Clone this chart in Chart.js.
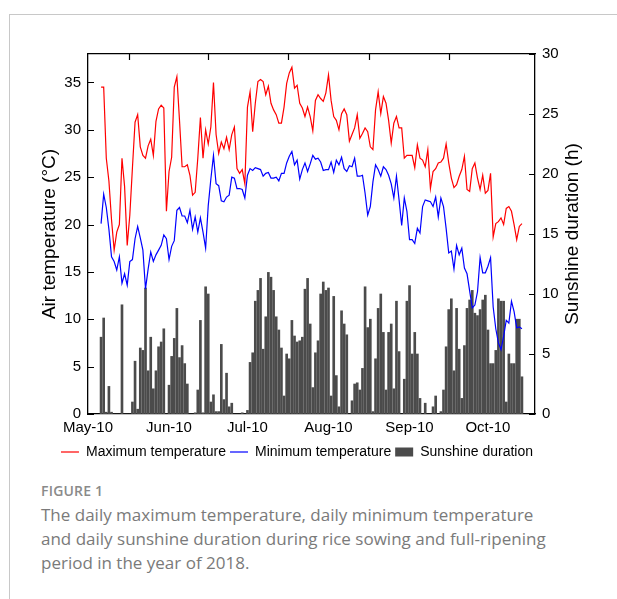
<!DOCTYPE html>
<html>
<head>
<meta charset="utf-8">
<script src="https://cdn.jsdelivr.net/npm/chart.js@4"></script>
<style>
  html, body { margin: 0; padding: 0; background: #fff; }
  body { width: 617px; height: 599px; position: relative; overflow: hidden; }
  .frame { position: absolute; left: 9px; top: 14px; width: 610px; height: 590px;
           border-top: 1px solid #c8c8c8; border-left: 1px solid #c8c8c8; }
  #chart { position: absolute; left: 0; top: 0; }
  .fig-label { position: absolute; left: 41px; top: 481px; font: 600 14px "Open Sans", Lato, sans-serif;
               color: #8a8a8a; letter-spacing: 0.2px; }
  .fig-caption { position: absolute; left: 41px; top: 503px; font: 400 17px "Open Sans", Lato, sans-serif;
                 color: #7a7a7a; line-height: 24px; white-space: nowrap; }
</style>
</head>
<body>
<div class="frame"></div>
<canvas id="chart" width="594" height="469"></canvas>
<div class="fig-label">FIGURE 1</div>
<div class="fig-caption">The daily maximum temperature, daily minimum temperature<br>and daily sunshine duration during rice sowing and full-ripening<br>period in the year of 2018.</div>
<script>
// ////// data: one value per day, day 0 = 10 May 2018 //////
const firstDay = 5;   // first record is 15 May
const lastDay = 171;  // axis ends 28 Oct

const tickDays = [0, 31, 61, 92, 123, 153];
const tickLabels = ['May-10', 'Jun-10', 'Jul-10', 'Aug-10', 'Sep-10', 'Oct-10'];
const topTickDays = [15.5, 46, 76.5, 107.5, 138];

const maxTemp = [
  34.5, 34.5, 27.0, 24.6, 20.5, 17.3, 19.2, 20.0, 27.0, 24.0,
  17.8, 21.0, 26.0, 30.8, 31.6, 28.2, 27.3, 27.0, 28.3, 29.0,
  27.3, 30.9, 32.2, 32.6, 32.3, 21.4, 25.6, 27.1, 34.5, 35.6,
  31.0, 26.1, 26.1, 26.3, 25.2, 23.1, 23.4, 27.0, 31.3, 27.0,
  30.0, 28.5, 30.3, 35.0, 29.5, 27.5, 28.7, 28.0, 29.2, 27.9,
  29.5, 30.3, 25.9, 25.4, 25.8, 24.3, 32.4, 34.0, 29.8, 32.8,
  35.1, 35.3, 35.1, 33.7, 34.6, 32.8, 32.1, 31.6, 30.7, 30.7,
  32.4, 34.9, 36.0, 36.6, 34.4, 34.7, 32.8, 32.3, 31.4, 32.4,
  31.4, 29.9, 33.1, 33.7, 33.3, 33.0, 33.9, 35.8, 33.1, 31.4,
  31.0, 30.0, 31.7, 32.2, 31.6, 28.8, 29.5, 30.2, 31.6, 29.1,
  29.6, 30.2, 29.8, 28.2, 27.9, 32.1, 34.0, 31.7, 33.5,
  32.8, 31.0, 28.6, 30.7, 31.4, 30.2, 30.2, 27.0, 27.3, 27.3,
  27.3, 26.0, 28.4, 27.0, 26.8, 26.1, 27.9, 23.8, 25.6, 25.9,
  26.5, 26.6, 27.0, 28.5, 26.5, 24.9, 23.9, 24.2, 25.1, 25.8,
  27.2, 23.7, 23.5, 25.9, 26.5, 24.9, 23.7, 25.2, 23.3, 23.6,
  25.4, 18.7, 20.1, 20.3, 20.7, 20.0, 21.7, 21.9, 21.4, 20.0,
  18.4, 19.8, 20.1
];

const minTemp = [
  20.1, 23.2, 21.8, 19.5, 16.6, 16.1, 15.2, 16.6, 13.8, 14.8,
  13.6, 16.1, 16.3, 18.5, 19.8, 18.6, 17.3, 13.2, 15.3, 17.1,
  16.1, 16.8, 17.3, 17.8, 18.9, 18.5, 16.3, 17.7, 18.3, 21.5,
  21.8, 20.9, 20.9, 20.2, 21.5, 19.5, 20.8, 19.2, 20.7, 19.2,
  17.5, 22.0, 24.8, 27.3, 24.3, 24.1, 22.5, 22.4, 22.9, 23.1,
  25.0, 24.9, 23.8, 23.8, 23.7, 22.8, 25.2, 25.9, 25.7, 26.0,
  25.9, 25.8, 25.1, 25.4, 25.5, 24.9, 24.9, 25.0, 24.6, 25.4,
  25.4, 26.5, 27.2, 27.7, 26.3, 26.8, 24.8, 25.8, 26.5, 25.6,
  26.4, 27.3, 26.9, 27.0, 26.6, 25.7, 25.8, 25.8, 26.6, 25.5,
  26.8, 26.3, 27.1, 25.9, 25.6, 26.2, 26.1, 27.0, 25.1, 25.1,
  25.2, 23.3, 21.0, 21.9, 24.5, 26.3, 25.8, 25.1, 26.1,
  25.8, 25.2, 24.3, 22.8, 25.1, 22.6, 19.9, 22.8, 21.4, 18.4,
  18.4, 18.0, 19.6, 19.1, 21.9, 22.6, 22.5, 22.4, 21.9, 22.9,
  20.8, 22.8, 21.9, 19.6, 17.0, 17.2, 15.3, 17.8, 16.8, 17.5,
  15.4, 14.8, 13.0, 11.2, 11.5, 12.9, 16.5, 14.9, 14.9, 15.6,
  16.5, 11.3, 9.0, 7.5, 6.8, 8.2, 9.9, 9.6, 11.9, 10.8,
  9.1, 9.2, 9.0
];

const sunshine = [
  6.4, 8.0, 0.15, 2.3, 0.15, 0, 0, 0, 9.1, 0,
  0, 0, 1.0, 4.4, 0.4, 5.5, 5.3, 10.5, 3.6, 6.4,
  2.1, 3.6, 5.6, 6.0, 7.1, 0, 2.4, 4.8, 6.3, 8.8,
  4.7, 5.7, 4.2, 2.5, 0, 0, 0.1, 2.0, 7.8, 0.1,
  10.6, 10.0, 1.0, 1.6, 0.2, 0.2, 5.8, 1.2, 3.4, 0.6,
  0.9, 0, 0, 0, 0.1, 0, 0.3, 4.3, 5.1, 9.4,
  10.3, 11.3, 5.4, 8.1, 11.8, 11.4, 10.3, 8.1, 7.0, 5.5,
  1.5, 5.0, 4.6, 7.8, 6.5, 6.0, 6.1, 6.4, 10.4, 11.3,
  7.5, 2.2, 5.1, 6.1, 10.0, 11.0, 10.3, 10.5, 1.5, 9.8,
  3.2, 0.6, 8.6, 7.5, 6.6, 0, 1.1, 2.5, 2.6, 2.0,
  3.8, 10.6, 7.2, 7.9, 0.2, 4.6, 8.8, 10.0, 6.8, 2.0,
  6.8, 7.5, 2.1, 9.4, 5.2, 0, 2.9, 9.4, 10.7, 5.0,
  6.8, 5.0, 1.3, 0, 0.9, 0, 0, 0.6, 1.5, 0,
  0.2, 2.0, 5.6, 8.7, 9.6, 3.6, 8.8, 5.4, 1.3, 5.7,
  8.8, 9.5, 10.3, 8.4, 8.2, 8.7, 9.5, 9.9, 7.0, 4.2,
  4.2, 5.3, 9.6, 9.4, 9.4, 1.0, 5.0, 4.2, 4.2, 7.9,
  7.9, 3.1
];

const toPoints = arr => arr.map((v, i) => ({x: firstDay + i, y: v}));

const FONT = '"Liberation Sans", Arial, sans-serif';
Chart.defaults.font.family = FONT;
Chart.defaults.color = '#000';

////// inward tick marks + right axis title (reads bottom to top) //////
const frameExtras = {
  id: 'frameExtras',
  afterDraw(chart) {
    const {ctx, chartArea: a, scales} = chart;
    ctx.save();
    ctx.strokeStyle = '#000';
    ctx.lineWidth = 1.2;
    ctx.beginPath();
    scales.y.ticks.forEach(t => {
      const py = Math.round(scales.y.getPixelForValue(t.value)) + 0.5;
      ctx.moveTo(a.left, py); ctx.lineTo(a.left + 6, py);
    });
    scales.y1.ticks.forEach(t => {
      const py = Math.round(scales.y1.getPixelForValue(t.value)) + 0.5;
      ctx.moveTo(a.right, py); ctx.lineTo(a.right - 6, py);
    });
    topTickDays.forEach(d => {
      const px = Math.round(scales.x.getPixelForValue(d)) + 0.5;
      ctx.moveTo(px, a.top); ctx.lineTo(px, a.top + 6);
    });
    ctx.stroke();

    ctx.translate(scales.y1.left + 38, (a.top + a.bottom) / 2);
    ctx.rotate(-Math.PI / 2);
    ctx.font = '19px ' + FONT;
    ctx.fillStyle = '#000';
    ctx.textAlign = 'center';
    ctx.textBaseline = 'middle';
    ctx.fillText('Sunshine duration (h)', 0, 0);
    ctx.restore();
  }
};

const data = {
  datasets: [
    {
      type: 'line',
      label: 'Maximum temperature',
      data: toPoints(maxTemp),
      borderColor: '#ff0000',
      backgroundColor: '#ff0000',
      borderWidth: 1.2,
      pointRadius: 0,
      pointStyle: 'line',
      yAxisID: 'y',
    },
    {
      type: 'line',
      label: 'Minimum temperature',
      data: toPoints(minTemp),
      borderColor: '#0000ff',
      backgroundColor: '#0000ff',
      borderWidth: 1.2,
      pointRadius: 0,
      pointStyle: 'line',
      yAxisID: 'y',
    },
    {
      type: 'bar',
      label: 'Sunshine duration',
      data: toPoints(sunshine),
      backgroundColor: '#4b4b4b',
      borderWidth: 0,
      barThickness: 2,
      pointStyle: 'rect',
      yAxisID: 'y1',
    }
  ]
};

const config = {
  data: data,
  options: {
    responsive: false,
    animation: false,
    layout: { padding: { top: 54, left: 0, right: 0, bottom: 0 } },
    plugins: {
      legend: {
        position: 'bottom',
        labels: {
          usePointStyle: true,
          pointStyleWidth: 18,
          boxHeight: 9,
          padding: 4,
          color: '#000',
          font: { size: 14 },
        }
      },
      tooltip: { enabled: false },
    },
    scales: {
      x: {
        type: 'linear',
        offset: false,
        min: 0,
        max: lastDay,
        afterBuildTicks: s => { s.ticks = tickDays.map(v => ({value: v})); },
        ticks: {
          autoSkip: false,
          maxRotation: 0,
          padding: 5,
          font: { size: 15 },
          callback: v => tickLabels[tickDays.indexOf(v)],
        },
        grid: { display: false, drawTicks: false },
        border: { display: true, color: '#000', width: 1.3 },
        afterFit: s => { s.height = 27; },
      },
      xTop: {
        type: 'linear',
        position: 'top',
        offset: false,
        min: 0,
        max: lastDay,
        ticks: { display: false },
        grid: { display: false, drawTicks: false },
        border: { display: true, color: '#000', width: 1.3 },
        afterFit: s => { s.height = 0; },
      },
      y: {
        position: 'left',
        min: 0,
        max: 38,
        ticks: { stepSize: 5, includeBounds: false, padding: 7, font: { size: 15 } },
        grid: { display: false, drawTicks: false },
        border: { display: true, color: '#000', width: 1.3 },
        title: {
          display: true,
          text: 'Air temperature (°C)',
          font: { size: 19 },
          padding: { top: 38, bottom: 0 },
        },
        afterFit: s => { s.width = 88; },
      },
      y1: {
        position: 'right',
        min: 0,
        max: 30,
        ticks: { stepSize: 5, includeBounds: false, padding: 7, font: { size: 15 } },
        grid: { display: false, drawTicks: false },
        border: { display: true, color: '#000', width: 1.3 },
        afterFit: s => { s.width = 59; },
      },
    },
  },
  plugins: [frameExtras],
};

var myChart = new Chart(document.getElementById('chart'), config);
</script>
</body>
</html>
